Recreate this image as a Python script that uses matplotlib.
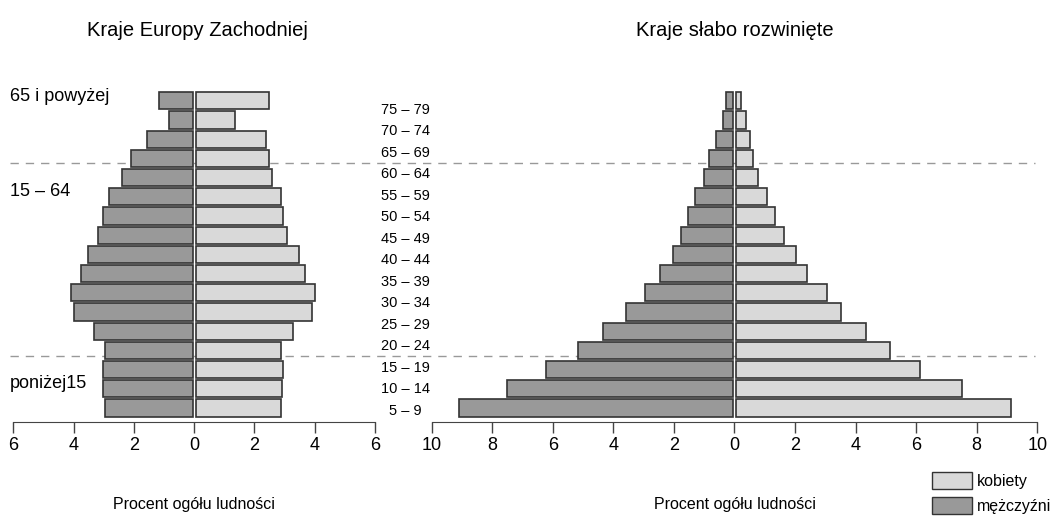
import numpy as np
import matplotlib
matplotlib.use("Agg")
import matplotlib.pyplot as plt
from matplotlib.lines import Line2D
from matplotlib.patches import Patch
from matplotlib.transforms import blended_transform_factory

plt.rcParams['font.family'] = ['Liberation Sans Narrow', 'Liberation Sans', 'DejaVu Sans']

# bars listed bottom -> top (17 groups)
west_men = [2.95, 3.01, 3.01, 2.95, 3.31, 3.97, 4.10, 3.75, 3.53,
            3.18, 3.01, 2.84, 2.39, 2.08, 1.58, 0.85, 1.18]
west_women = [2.89, 2.91, 2.95, 2.89, 3.27, 3.90, 4.00, 3.69, 3.47,
              3.09, 2.95, 2.89, 2.59, 2.48, 2.37, 1.34, 2.48]
poor_men = [9.10, 7.50, 6.22, 5.18, 4.33, 3.59, 2.97, 2.45, 2.04,
            1.75, 1.53, 1.31, 1.00, 0.83, 0.61, 0.37, 0.28]
poor_women = [9.12, 7.50, 6.13, 5.13, 4.33, 3.52, 3.05, 2.41, 2.02,
              1.63, 1.34, 1.08, 0.79, 0.62, 0.52, 0.39, 0.23]

age_labels = ['5 – 9', '10 – 14', '15 – 19', '20 – 24', '25 – 29', '30 – 34',
              '35 – 39', '40 – 44', '45 – 49', '50 – 54', '55 – 59', '60 – 64',
              '65 – 69', '70 – 74', '75 – 79']
group_labels = ['poniżej15', '15 – 64', '65 i powyżej']

women_color = '#d9d9d9'
men_color = '#999999'
edge = '#333333'

fig = plt.figure(figsize=(10.5, 5.19), dpi=100)
ax1 = fig.add_axes([0.01267, 0.1869, 0.3445, 0.6397])
ax2 = fig.add_axes([0.4111, 0.1869, 0.5768, 0.6397])

y = np.arange(len(west_men))


def pyramid(ax, men, women, lim, ticks, gap):
    # small white gap between the two halves, as in the original
    ax.barh(y, [-(v - gap) for v in men], left=-gap, height=0.9,
            color=men_color, edgecolor=edge, linewidth=1.2)
    ax.barh(y, [v - gap for v in women], left=gap, height=0.9,
            color=women_color, edgecolor=edge, linewidth=1.2)
    ax.set_xlim(-lim, lim)
    ax.set_ylim(-0.73, 16.56)
    ax.set_xticks(ticks)
    ax.set_xticklabels([str(abs(t)) for t in ticks])
    ax.set_yticks([])
    for s in ['top', 'left', 'right']:
        ax.spines[s].set_visible(False)
    ax.spines['bottom'].set_color('#444444')
    ax.tick_params(axis='x', length=8, width=1, color='#444444',
                   labelsize=13, pad=3)
    ax.patch.set_visible(False)
    ax.set_xlabel('Procent ogółu ludności', fontsize=11.5)
    ax.xaxis.set_label_coords(0.5, -0.225)


pyramid(ax1, west_men, west_women, 6, [-6, -4, -2, 0, 2, 4, 6], 0.05)
pyramid(ax2, poor_men, poor_women, 10, [-10, -8, -6, -4, -2, 0, 2, 4, 6, 8, 10], 0.05)

# dashed separators running across the whole figure
tr = blended_transform_factory(fig.transFigure, ax1.transData)
for yy in [12.78, 2.71]:
    fig.add_artist(Line2D([10 / 1050, 1035 / 1050], [yy, yy], transform=tr,
                          color='#999999', linestyle=(0, (6, 5)),
                          linewidth=1, zorder=-1))

# broad age group labels
for lbl, yy in zip(group_labels, [1.30, 11.27, 16.2]):
    ax1.text(-0.009, yy, lbl, transform=ax1.get_yaxis_transform(),
             ha='left', va='center', fontsize=13)

# age class labels
for lbl, yy in zip(age_labels, np.linspace(-0.15, 15.52, len(age_labels))):
    ax2.text(-0.044, yy, lbl, transform=ax2.get_yaxis_transform(),
             ha='center', va='center', fontsize=10.5, clip_on=False)

fig.text(197 / 1050, 1 - 30 / 519, 'Kraje Europy Zachodniej',
         ha='center', va='center', fontsize=14.5)
fig.text(735 / 1050, 1 - 30 / 519, 'Kraje słabo rozwinięte',
         ha='center', va='center', fontsize=14.5)

handles = [Patch(facecolor=women_color, edgecolor=edge, label='kobiety'),
           Patch(facecolor=men_color, edgecolor=edge, label='mężczyźni')]
fig.legend(handles=handles, loc='upper left',
           bbox_to_anchor=(932 / 1050, 1 - 472 / 519), frameon=False,
           fontsize=11.5, handlelength=2.5, handleheight=1.3,
           handletextpad=0.3, labelspacing=0.45, borderpad=0,
           borderaxespad=0)

fig.savefig('out.png', dpi=100)
